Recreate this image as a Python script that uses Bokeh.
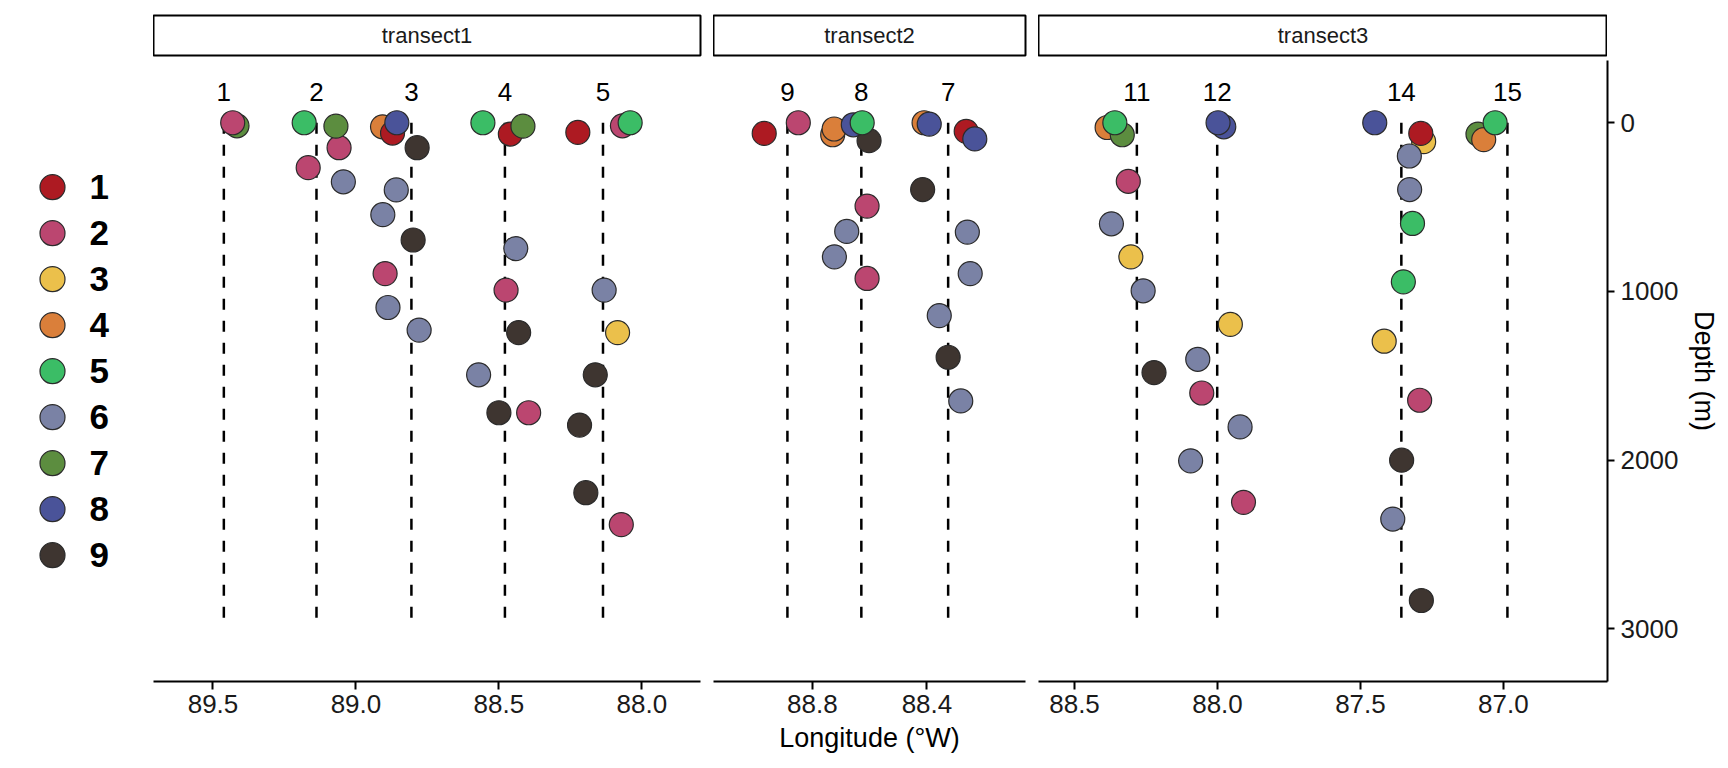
from bokeh.plotting import figure
from bokeh.layouts import row, column
from bokeh.models import Range1d, FixedTicker, NumeralTickFormatter, ColumnDataSource
from bokeh.transform import factor_cmap
from bokeh.core.properties import value
from bokeh.embed import file_html
from bokeh.resources import INLINE

# ---------------- data ----------------
transects = ["transect1", "transect2", "transect3"]
transect_lon_start = [89.708, 89.145, 88.626]
transect_lon_end = [87.795, 88.056, 86.636]
transect_ticks = [[89.5, 89.0, 88.5, 88.0], [88.8, 88.4], [88.5, 88.0, 87.5, 87.0]]
depth_ticks = [0, 1000, 2000, 3000]
depth_top, depth_bottom = -369, 3312

station_names = ["1", "2", "3", "4", "5", "9", "8", "7", "11", "12", "14", "15"]
station_transect = [0, 0, 0, 0, 0, 1, 1, 1, 2, 2, 2, 2]
station_lon = [89.462, 89.138, 88.806, 88.479, 88.136,
               88.887, 88.629, 88.326,
               88.282, 88.001, 87.357, 86.986]
station_line_top = 0
station_line_bottom = 3000
station_label_depth = -180

groups = ["1", "2", "3", "4", "5", "6", "7", "8", "9"]
group_colors = ["#AD1A22", "#BB4670", "#EBC04B", "#DA7F3A", "#3BBD66",
                "#7A82A5", "#5C8D3F", "#4A5399", "#3E3530"]

point_transect = [0] * 35 + [1] * 21 + [2] * 31
point_lon = [
    # transect1
    89.416, 89.431,
    89.181, 89.059, 89.070, 89.167, 89.044,
    88.907, 88.872, 88.857, 88.786, 88.859, 88.906, 88.800, 88.898, 88.888, 88.779,
    88.556, 88.460, 88.416, 88.441, 88.475, 88.431, 88.571, 88.500, 88.396,
    88.224, 88.068, 88.041, 88.132, 88.085, 88.163, 88.218, 88.196, 88.072,
    # transect2
    88.968, 88.849, 88.729, 88.724, 88.602, 88.657, 88.626,
    88.410, 88.392, 88.415, 88.609, 88.680, 88.723, 88.609, 88.357, 88.326, 88.282,
    88.263, 88.233, 88.259, 88.249,
    # transect3
    88.386, 88.333, 88.359, 88.312, 88.371, 88.303, 88.260, 88.222,
    87.978, 87.998, 87.955, 88.069, 88.055, 87.921, 88.094, 87.909,
    87.450, 87.279, 87.289, 87.329, 87.328, 87.318, 87.350, 87.417, 87.293, 87.356, 87.387, 87.287,
    87.089, 87.069, 87.029, 87.068, 86.944, 86.887,
]
point_depth = [
    # transect1
    18, 0,
    0, 148, 20, 266, 350,
    24, 61, 0, 148, 398, 545, 695, 894, 1095, 1229,
    0, 67, 20, 746, 992, 1244, 1494, 1719, 1719,
    57, 18, 0, 992, 1244, 1494, 1792, 2193, 2382,
    # transect2
    63, 0, 71, 37, 106, 12, 0,
    0, 8, 396, 494, 644, 795, 923, 1143, 1390, 1649,
    51, 96, 648, 894,
    # transect3
    28, 71, 0, 347, 599, 795, 996, 1481,
    24, 0, 1195, 1402, 1602, 1803, 2004, 2250,
    0, 112, 63, 197, 396, 597, 943, 1295, 1645, 2000, 2349, 2832,
    67, 100, 0, 295, 492, 895,
]
point_group = [
    # transect1
    "7", "2",
    "5", "2", "7", "2", "6",
    "4", "1", "8", "9", "6", "6", "9", "2", "6", "6",
    "5", "1", "7", "6", "2", "9", "6", "9", "2",
    "1", "2", "5", "6", "3", "9", "9", "9", "2",
    # transect2
    "1", "2", "4", "4", "9", "8", "5",
    "4", "8", "9", "2", "6", "6", "2", "6", "9", "6",
    "1", "8", "6", "6",
    # transect3
    "4", "7", "5", "2", "6", "3", "6", "9",
    "8", "8", "3", "6", "2", "6", "6", "2",
    "8", "3", "1", "6", "6", "5", "5", "3", "2", "9", "6", "9",
    "7", "4", "5", "3", "6", "6",
]

# ---------------- layout / style ----------------
FONT = "Liberation Sans"
legend_w = 153
frame_widths = [547, 312, 569]
right_borders = [13, 13, 0]
frame_h = 621
bottom_border = 80
strip_top, strip_h, strip_gap = 15, 40, 5

y_range = Range1d(start=depth_bottom, end=depth_top)
cmap = factor_cmap("group", palette=group_colors, factors=groups)

columns = []
for k, name in enumerate(transects):
    # facet strip
    s = figure(frame_width=frame_widths[k], frame_height=strip_h,
               x_range=Range1d(0, 1), y_range=Range1d(0, 1),
               output_backend="svg", toolbar_location=None, title=None,
               x_axis_location=None, y_axis_location=None,
               min_border_left=0, min_border_right=right_borders[k],
               min_border_top=strip_top, min_border_bottom=strip_gap)
    s.xgrid.visible = False
    s.ygrid.visible = False
    s.outline_line_color = "black"
    s.outline_line_width = 2
    s.text(x=[0.5], y=[0.5], text=[name], text_align="center", text_baseline="middle",
           text_font=value(FONT), text_font_size="22px", text_color="#1a1a1a")

    # panel
    p = figure(frame_width=frame_widths[k], frame_height=frame_h,
               x_range=Range1d(transect_lon_start[k], transect_lon_end[k]),
               y_range=y_range, output_backend="svg", toolbar_location=None, title=None,
               x_axis_location="below",
               y_axis_location=("right" if k == 2 else None),
               min_border_left=0, min_border_right=right_borders[k],
               min_border_top=0, min_border_bottom=bottom_border)
    p.xgrid.visible = False
    p.ygrid.visible = False
    p.outline_line_color = None

    st = [i for i, t in enumerate(station_transect) if t == k]
    ssrc = ColumnDataSource(dict(
        lon=[station_lon[i] for i in st],
        name=[station_names[i] for i in st],
        top=[station_line_top] * len(st),
        bottom=[station_line_bottom] * len(st),
        lab=[station_label_depth] * len(st),
    ))
    p.segment(x0="lon", y0="top", x1="lon", y1="bottom", source=ssrc,
              line_color="black", line_width=2.5, line_dash="11 11")
    p.text(x="lon", y="lab", text="name", source=ssrc, text_align="center",
           text_baseline="middle", text_font=value(FONT), text_font_size="26px",
           text_color="black")

    pi = [i for i, t in enumerate(point_transect) if t == k]
    psrc = ColumnDataSource(dict(
        lon=[point_lon[i] for i in pi],
        depth=[point_depth[i] for i in pi],
        group=[point_group[i] for i in pi],
    ))
    p.scatter(x="lon", y="depth", source=psrc, size=24, fill_color=cmap,
              line_color="#2b2b2b", line_width=1.2)

    ax = p.xaxis[0]
    ax.ticker = FixedTicker(ticks=transect_ticks[k])
    ax.formatter = NumeralTickFormatter(format="0.0")
    ax.minor_tick_line_color = None
    ax.major_tick_in = 0
    ax.major_tick_out = 8
    ax.major_tick_line_width = 2
    ax.axis_line_width = 2
    ax.major_label_text_font = FONT
    ax.major_label_text_font_size = "26px"
    ax.major_label_text_color = "#1a1a1a"
    ax.major_label_standoff = 5
    if k == 1:
        ax.axis_label = "Longitude (°W)"
        ax.axis_label_text_font = FONT
        ax.axis_label_text_font_size = "27px"
        ax.axis_label_text_font_style = "normal"
        ax.axis_label_text_color = "black"
        ax.axis_label_standoff = 7
    if k == 2:
        ay = p.yaxis[0]
        ay.ticker = FixedTicker(ticks=depth_ticks)
        ay.formatter = NumeralTickFormatter(format="0")
        ay.minor_tick_line_color = None
        ay.major_tick_in = 0
        ay.major_tick_out = 7
        ay.major_tick_line_width = 2
        ay.axis_line_width = 2
        ay.major_label_text_font = FONT
        ay.major_label_text_font_size = "26px"
        ay.major_label_text_color = "#1a1a1a"
        ay.major_label_standoff = 6
        ay.axis_label = "Depth (m)"
        ay.axis_label_text_font = FONT
        ay.axis_label_text_font_size = "27px"
        ay.axis_label_text_font_style = "normal"
        ay.axis_label_text_color = "black"
        ay.axis_label_standoff = 8
    columns.append(column(s, p))

# ---------------- legend panel ----------------
leg_h = strip_top + strip_h + strip_gap + frame_h + bottom_border
lg = figure(frame_width=legend_w, frame_height=leg_h,
            x_range=Range1d(0, legend_w), y_range=Range1d(12.485, -4.059),
            output_backend="svg", toolbar_location=None, title=None,
            x_axis_location=None, y_axis_location=None,
            min_border_left=0, min_border_right=0, min_border_top=0, min_border_bottom=0)
lg.xgrid.visible = False
lg.ygrid.visible = False
lg.outline_line_color = None
lsrc = ColumnDataSource(dict(
    gx=[52] * len(groups), tx=[89] * len(groups),
    gy=list(range(len(groups))), group=groups,
))
lg.scatter(x="gx", y="gy", source=lsrc, size=25, fill_color=cmap,
           line_color="#2b2b2b", line_width=1.2)
lg.text(x="tx", y="gy", text="group", source=lsrc, text_align="left",
        text_baseline="middle", text_font=value(FONT), text_font_size="35px",
        text_font_style="bold", text_color="black")

layout = row(lg, *columns)
open("out.html", "w").write(file_html(layout, INLINE))
